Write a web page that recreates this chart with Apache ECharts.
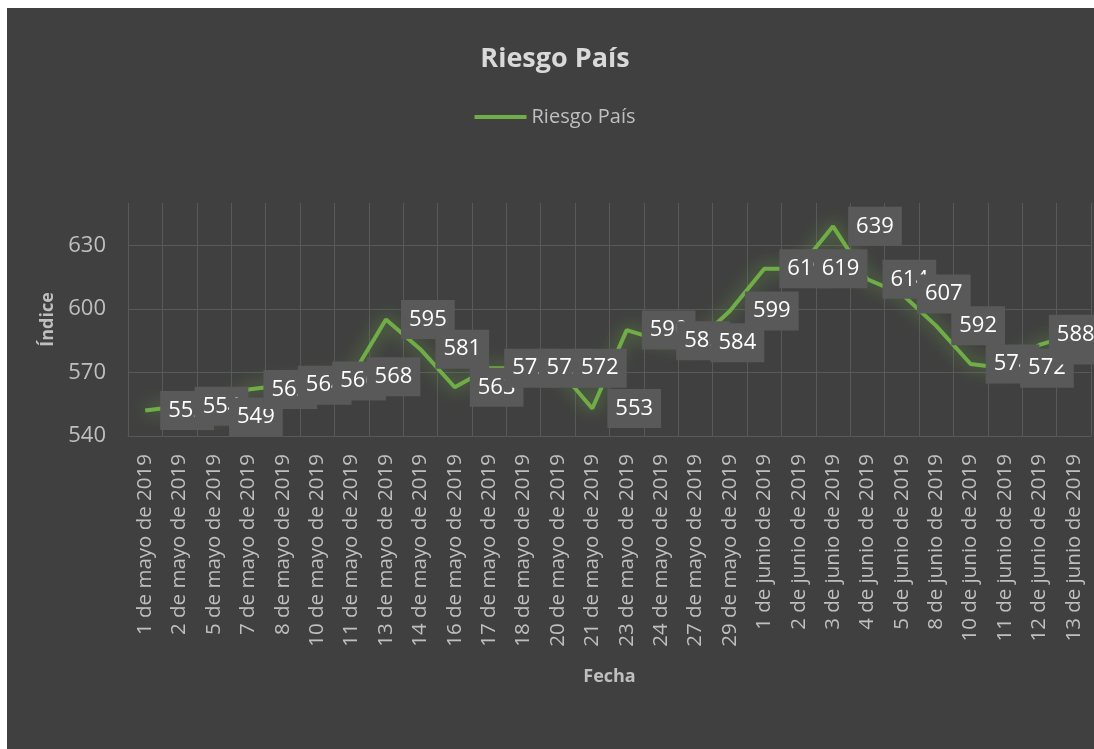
<!DOCTYPE html>
<html>
<head>
<meta charset="utf-8">
<title>Riesgo País</title>
<script src="https://cdn.jsdelivr.net/npm/echarts@6/dist/echarts.min.js"></script>
<style>
  html, body { margin: 0; padding: 0; background: #fff; overflow: hidden; }
  #chart {
    position: absolute;
    left: 7px;
    top: 8px;
    width: 1096px;
    height: 741px;
    background: #404040;
  }
</style>
</head>
<body>
<div id="chart"></div>
<script>
// fechas (eje X)
const fechas = [
  '1 de mayo de 2019', '2 de mayo de 2019', '5 de mayo de 2019', '7 de mayo de 2019',
  '8 de mayo de 2019', '10 de mayo de 2019', '11 de mayo de 2019', '13 de mayo de 2019',
  '14 de mayo de 2019', '16 de mayo de 2019', '17 de mayo de 2019', '18 de mayo de 2019',
  '20 de mayo de 2019', '21 de mayo de 2019', '23 de mayo de 2019', '24 de mayo de 2019',
  '27 de mayo de 2019', '29 de mayo de 2019', '1 de junio de 2019', '2 de junio de 2019',
  '3 de junio de 2019', '4 de junio de 2019', '5 de junio de 2019', '8 de junio de 2019',
  '10 de junio de 2019', '11 de junio de 2019', '12 de junio de 2019', '13 de junio de 2019'
]

// valores del índice
const riesgoPais = [
  552, 554, 549, 562, 564, 566, 568, 595, 581, 563, 572, 572, 572, 553,
  590, 585, 584, 599, 619, 619, 639, 614, 607, 592, 574, 572, 583, 588
]

// eje Y
const yMin = 540
const yMax = 650
const yStep = 30

const labelFont = 'Open Sans, DejaVu Sans, sans-serif'

const chart = echarts.init(document.getElementById('chart'))

chart.setOption({
  backgroundColor: '#404040',
  animation: false,
  title: {
    text: 'Riesgo País',
    left: 'center',
    top: 38,
    padding: 0,
    textStyle: {
      color: '#d9d9d9',
      fontSize: 27,
      fontWeight: 'bold',
      fontFamily: labelFont
    }
  },
  legend: {
    data: ['Riesgo País'],
    left: 'center',
    top: 99,
    padding: 0,
    icon: 'rect',
    itemWidth: 52,
    itemHeight: 4,
    textStyle: {
      color: '#bfbfbf',
      fontSize: 20,
      fontFamily: labelFont
    }
  },
  grid: {
    left: 121,
    right: 12,
    top: 195,
    bottom: 313
  },
  xAxis: {
    type: 'category',
    data: fechas,
    boundaryGap: true,
    name: 'Fecha',
    nameLocation: 'middle',
    nameGap: 232,
    nameTextStyle: {
      color: '#bfbfbf',
      fontSize: 18,
      fontWeight: 'bold',
      fontFamily: labelFont
    },
    axisLine: { lineStyle: { color: '#595959', width: 1 } },
    axisTick: { show: false },
    axisLabel: {
      interval: 0,
      rotate: 90,
      margin: 18,
      color: '#bfbfbf',
      fontSize: 20.5,
      fontFamily: labelFont
    },
    splitLine: {
      show: true,
      interval: 0,
      lineStyle: { color: '#595959', width: 1 }
    }
  },
  yAxis: {
    type: 'value',
    min: yMin,
    max: yMax,
    interval: yStep,
    name: 'Índice',
    nameLocation: 'middle',
    nameGap: 71,
    nameTextStyle: {
      color: '#bfbfbf',
      fontSize: 18,
      fontWeight: 'bold',
      fontFamily: labelFont
    },
    axisLine: { show: false },
    axisTick: { show: false },
    axisLabel: {
      margin: 22,
      showMaxLabel: false,
      color: '#bfbfbf',
      fontSize: 22,
      fontFamily: labelFont
    },
    splitLine: {
      show: true,
      showMaxLine: false,
      lineStyle: { color: '#595959', width: 1 }
    }
  },
  series: [{
    name: 'Riesgo País',
    type: 'line',
    data: riesgoPais,
    // labels of a line series live on its symbols, so keep tiny ones
    showSymbol: true,
    symbol: 'circle',
    symbolSize: 0.1,
    itemStyle: { color: '#70ad47' },
    lineStyle: {
      color: '#70ad47',
      width: 4,
      shadowColor: 'rgba(112, 173, 71, 0.9)',
      shadowBlur: 18
    },
    label: {
      show: true,
      position: 'right',
      distance: 15,
      color: '#ffffff',
      fontSize: 22,
      fontFamily: labelFont,
      lineHeight: 27,
      backgroundColor: '#595959',
      padding: [6, 8]
    },
    // Excel keeps the last label inside the chart area
    labelLayout: function (params) {
      if (params.dataIndex === riesgoPais.length - 1) {
        return { dx: -40, hideOverlap: false }
      }
      return { hideOverlap: false }
    }
  }]
})
</script>
</body>
</html>
